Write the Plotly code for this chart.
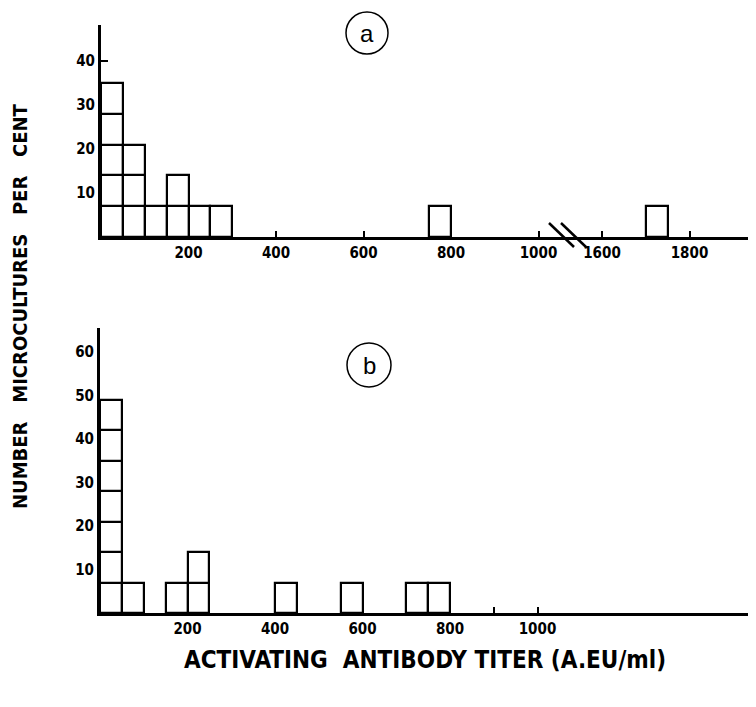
import plotly.graph_objects as go

W, H = 756, 707
OFF = 8  # page body margin offset of the plot div

# ---- data ----
BIN_WIDTH = 50            # A.EU/ml per class
PCT_PER_CULTURE = 7.0     # one microculture ~ 7 per cent

# panel a: class left edges and number of microcultures per class
a_bin_left = [0, 50, 100, 150, 200, 250, 750, 1700]
a_counts = [5, 3, 1, 2, 1, 1, 1, 1]
# panel b
b_bin_left = [0, 50, 150, 200, 400, 550, 700, 750]
b_counts = [7, 1, 1, 2, 1, 1, 1, 1]

a_left_ticks = [200, 400, 600, 800, 1000]
a_right_ticks = [1600, 1800]
b_ticks = [200, 400, 600, 800, 900, 1000]
b_ticktext = ["200", "400", "600", "800", "", "1000"]
a_yticks = [10, 20, 30, 40]
b_yticks = [10, 20, 30, 40, 50, 60]

BREAK_AT = 1100  # values above this go to the right part of panel a's broken axis

FONT = "DejaVu Sans Condensed, Liberation Sans Narrow, DejaVu Sans, sans-serif"


def px(x):
    return (x - OFF) / W


def py(y):
    return 1 - (y - OFF) / H


def squares(lefts, counts):
    xs, bases, ys = [], [], []
    for l, n in zip(lefts, counts):
        for k in range(n):
            xs.append(l + BIN_WIDTH / 2)
            bases.append(k * PCT_PER_CULTURE)
            ys.append(PCT_PER_CULTURE)
    return xs, ys, bases


def bar(xs, ys, bases, xaxis, yaxis):
    return go.Bar(
        x=xs, y=ys, base=bases, width=BIN_WIDTH,
        marker=dict(color="white", line=dict(color="black", width=2.2)),
        xaxis=xaxis, yaxis=yaxis, cliponaxis=False, showlegend=False,
        hoverinfo="skip",
    )


fig = go.Figure()

aL = [(l, n) for l, n in zip(a_bin_left, a_counts) if l < BREAK_AT]
aR = [(l, n) for l, n in zip(a_bin_left, a_counts) if l >= BREAK_AT]
fig.add_trace(bar(*squares([l for l, _ in aL], [n for _, n in aL]), "x", "y"))
fig.add_trace(bar(*squares([l for l, _ in aR], [n for _, n in aR]), "x2", "y"))
fig.add_trace(bar(*squares(b_bin_left, b_counts), "x3", "y2"))

tickfont = dict(family=FONT, size=15, color="black", weight="bold")

xcommon = dict(
    showline=True, linecolor="black", linewidth=3, ticks="inside", ticklen=6,
    tickwidth=2, tickcolor="black", showgrid=False, zeroline=False,
    tickfont=tickfont, layer="below traces", fixedrange=True,
)
ycommon = dict(
    showline=True, linecolor="black", linewidth=3, showgrid=False,
    zeroline=False, tickfont=tickfont, layer="below traces", fixedrange=True,
)

SCALE = 0.4375           # px per A.EU/ml
A_TOP, A_BASE = 25, 237
B_TOP, B_BASE = 328, 613
A_X0, B_X0, SPLIT = 101, 100, 567
RIGHT_EDGE = W + OFF

fig.update_layout(
    width=W, height=H, autosize=False,
    margin=dict(l=0, r=0, t=0, b=0),
    paper_bgcolor="white", plot_bgcolor="rgba(0,0,0,0)",
    barmode="overlay", bargap=0,
    xaxis=dict(domain=[px(A_X0), px(SPLIT)], range=[0, (SPLIT - A_X0) / SCALE],
               anchor="y", tickvals=a_left_ticks, **xcommon),
    xaxis2=dict(domain=[px(SPLIT), 1.0],
                range=[1520, 1520 + (RIGHT_EDGE - SPLIT) / SCALE], anchor="y",
                tickvals=a_right_ticks, **xcommon),
    xaxis3=dict(domain=[px(B_X0), 1.0], range=[0, (RIGHT_EDGE - B_X0) / SCALE],
                anchor="y2", tickvals=b_ticks, ticktext=b_ticktext, **xcommon),
    yaxis=dict(domain=[py(A_BASE), py(A_TOP)], range=[0, (A_BASE - A_TOP) / 4.4],
               anchor="x", tickvals=a_yticks, ticks="inside", ticklen=7,
               tickwidth=2, tickcolor="black", **ycommon),
    yaxis2=dict(domain=[py(B_BASE), py(B_TOP)], range=[0, (B_BASE - B_TOP) / 4.35],
                anchor="x3", tickvals=b_yticks, ticks="", **ycommon),
)

# axis break marks
for x0 in (549, 561):
    fig.add_shape(type="line", xref="paper", yref="paper",
                  x0=px(x0), y0=py(223), x1=px(x0 + 25), y1=py(247),
                  line=dict(color="black", width=2.5))

# circled panel labels
for label, cx, cy, r in (("a", 367, 33, 21), ("b", 369, 365, 22)):
    fig.add_shape(type="circle", xref="paper", yref="paper",
                  x0=px(cx - r), x1=px(cx + r), y0=py(cy + r), y1=py(cy - r),
                  line=dict(color="black", width=1.5))
    fig.add_annotation(text=label, x=px(cx), y=py(cy), xref="paper", yref="paper",
                       showarrow=False, xanchor="center", yanchor="middle",
                       font=dict(family="Liberation Sans, Arial, sans-serif",
                                 size=24, color="black"))

# axis titles
fig.add_annotation(text="NUMBER   MICROCULTURES   PER   CENT", x=px(20), y=py(306),
                   xref="paper", yref="paper", showarrow=False, textangle=-90,
                   xanchor="center", yanchor="middle",
                   font=dict(family=FONT, size=20, color="black", weight="bold"))
fig.add_annotation(text="ACTIVATING  ANTIBODY TITER (A.EU/ml)", x=px(425), y=py(660),
                   xref="paper", yref="paper", showarrow=False,
                   xanchor="center", yanchor="middle",
                   font=dict(family=FONT, size=24, color="black", weight="bold"))

fig.write_html("out.html")
